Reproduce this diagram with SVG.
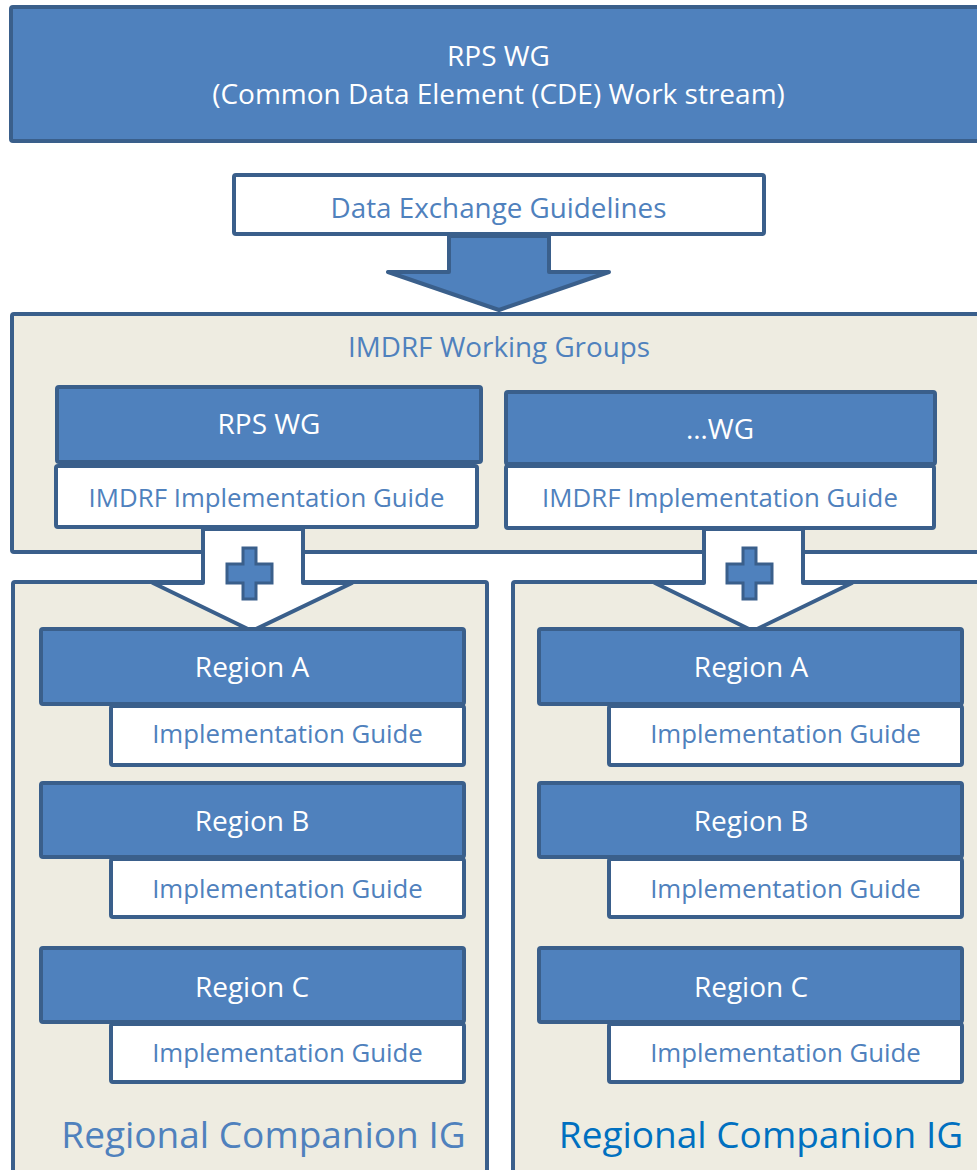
<svg xmlns="http://www.w3.org/2000/svg" width="977" height="1170" viewBox="0 0 977 1170">
<style>
.blue{fill:#4F81BD;stroke:#3A5F8B;stroke-width:4;stroke-linejoin:round}
.white{fill:#FFFFFF;stroke:#3A5F8B;stroke-width:4;stroke-linejoin:round}
.beige{fill:#EEECE1;stroke:#3A5F8B;stroke-width:4;stroke-linejoin:round}
.plus{fill:#4F81BD;stroke:#3A5F8B;stroke-width:3;stroke-linejoin:miter}
text{font-family:"Open Sans","Noto Sans","Liberation Sans",sans-serif;text-anchor:middle}
.tw{fill:#FFFFFF;font-size:28px}
.tb{fill:#4F81BD;font-size:27.8px}
.ig{fill:#4F81BD;font-size:25.8px}
.big{font-size:37px}
</style>
<rect width="977" height="1170" fill="#FFFFFF"/>

<g id="rps-cde">
<rect class="blue" x="11" y="7" width="980" height="134" rx="2"/>
<text class="tw" x="498.5" y="66">RPS WG</text>
<text class="tw" x="498.5" y="104">(Common Data Element (CDE) Work stream)</text>
</g>

<g id="data-exchange">
<rect class="white" x="234" y="175" width="530" height="59" rx="2"/>
<text class="tb" x="498.5" y="218">Data Exchange Guidelines</text>
</g>

<g id="imdrf-wg">
<rect class="beige" x="12" y="314" width="980" height="238" rx="2"/>
<text class="tb" x="499" y="357">IMDRF Working Groups</text>
</g>

<g id="rps-wg">
<rect class="white" x="56" y="466" width="421" height="61" rx="2"/>
<rect class="blue" x="57" y="387" width="424" height="75" rx="2"/>
<text class="tw" x="269" y="434">RPS WG</text>
<text class="ig" x="266.5" y="507">IMDRF Implementation Guide</text>
</g>

<g id="other-wg">
<rect class="white" x="506" y="466" width="428" height="62" rx="2"/>
<rect class="blue" x="506" y="392" width="429" height="72" rx="2"/>
<text class="tw" x="720" y="439">…WG</text>
<text class="ig" x="720" y="507">IMDRF Implementation Guide</text>
</g>

<g id="regional-left">
<rect class="beige" x="13" y="582" width="474" height="600" rx="2"/>
<text class="big" x="263.5" y="1148" fill="#4F81BD">Regional Companion IG</text>
</g>

<g id="regional-right">
<rect class="beige" x="513" y="582" width="480" height="600" rx="2"/>
<text class="big" x="761" y="1148" fill="#0070C0">Regional Companion IG</text>
</g>

<g id="connectors">
<path class="blue" d="M449,236 L549,236 L549,272 L609,272 L499,310 L388,272 L449,272 Z"/>
<path class="white" d="M203,529 L303,529 L303,583 L352,583 L252,631 L153,583 L203,583 Z"/>
<path class="plus" d="M243,548 H256 V564 H272 V583 H256 V599 H243 V583 H227 V564 H243 Z"/>
<path class="white" d="M704,529 L803,529 L803,583 L852,583 L753,631 L655,583 L704,583 Z"/>
<path class="plus" d="M743,548 H756 V564 H772 V583 H756 V599 H743 V583 H727 V564 H743 Z"/>
</g>

<g id="left-region-a">
<rect class="white" x="111" y="706" width="353" height="59" rx="2"/>
<rect class="blue" x="41" y="629" width="423" height="75" rx="2"/>
<text class="tw" x="252" y="677">Region A</text>
<text class="ig" x="287.5" y="743">Implementation Guide</text>
</g>
<g id="left-region-b">
<rect class="white" x="111" y="859" width="353" height="58" rx="2"/>
<rect class="blue" x="41" y="783" width="423" height="74" rx="2"/>
<text class="tw" x="252" y="831">Region B</text>
<text class="ig" x="287.5" y="898">Implementation Guide</text>
</g>
<g id="left-region-c">
<rect class="white" x="111" y="1024" width="353" height="58" rx="2"/>
<rect class="blue" x="41" y="948" width="423" height="74" rx="2"/>
<text class="tw" x="252" y="997">Region C</text>
<text class="ig" x="287.5" y="1062">Implementation Guide</text>
</g>

<g id="right-region-a">
<rect class="white" x="609" y="706" width="353" height="59" rx="2"/>
<rect class="blue" x="539" y="629" width="423" height="75" rx="2"/>
<text class="tw" x="751" y="677">Region A</text>
<text class="ig" x="785.5" y="743">Implementation Guide</text>
</g>
<g id="right-region-b">
<rect class="white" x="609" y="859" width="353" height="58" rx="2"/>
<rect class="blue" x="539" y="783" width="423" height="74" rx="2"/>
<text class="tw" x="751" y="831">Region B</text>
<text class="ig" x="785.5" y="898">Implementation Guide</text>
</g>
<g id="right-region-c">
<rect class="white" x="609" y="1024" width="353" height="58" rx="2"/>
<rect class="blue" x="539" y="948" width="423" height="74" rx="2"/>
<text class="tw" x="751" y="997">Region C</text>
<text class="ig" x="785.5" y="1062">Implementation Guide</text>
</g>
</svg>
